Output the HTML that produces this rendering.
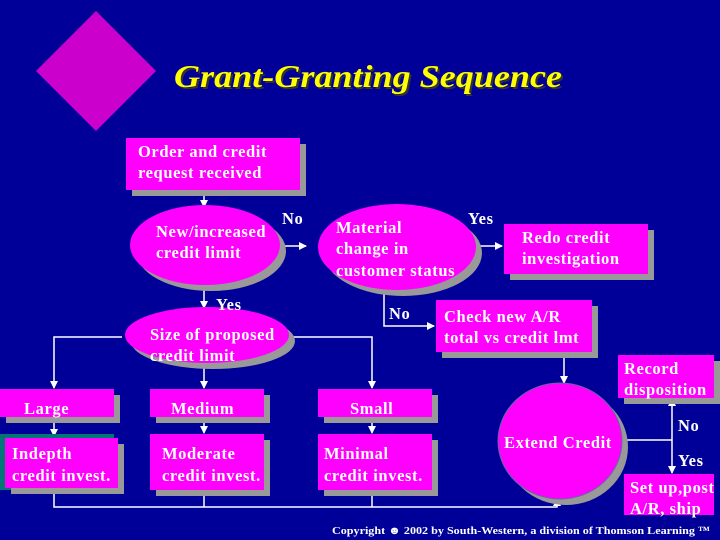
<!DOCTYPE html>
<html><head><meta charset="utf-8"><style>
body{margin:0;background:#000099;}
svg{display:block}
text{font-family:"Liberation Serif",serif;font-weight:bold;fill:#fff;letter-spacing:0.6px}
.sh{fill:#999}
.m{fill:#ff00ff}
.l{stroke:#fff;stroke-width:1.5;fill:none}
</style></head><body>
<svg width="720" height="540" viewBox="0 0 720 540" font-size="16.5">
<defs><marker id="a" markerWidth="8" markerHeight="8" refX="7" refY="4" orient="auto" markerUnits="userSpaceOnUse"><path d="M0,0L8,4L0,8z" fill="#fff"/></marker></defs>
<rect width="720" height="540" fill="#000099"/>
<polygon points="96,11 156,71 96,131 36,71" fill="#cc00cc"/>
<text x="176" y="89" textLength="388" lengthAdjust="spacingAndGlyphs" style="font-size:32px;font-style:italic;fill:#333;letter-spacing:0">Grant-Granting Sequence</text>
<text x="174" y="87" textLength="388" lengthAdjust="spacingAndGlyphs" style="font-size:32px;font-style:italic;fill:#ffff00;letter-spacing:0">Grant-Granting Sequence</text>

<g class="l">
<line x1="204" y1="190" x2="204" y2="207" marker-end="url(#a)"/>
<line x1="282" y1="246" x2="306" y2="246" marker-end="url(#a)"/>
<line x1="204" y1="286" x2="204" y2="308" marker-end="url(#a)"/>
<line x1="462" y1="246" x2="502" y2="246" marker-end="url(#a)"/>
<polyline points="384,288 384,326 434,326" marker-end="url(#a)"/>
<polyline points="122,337 54,337 54,388" marker-end="url(#a)"/>
<polyline points="288,337 372,337 372,388" marker-end="url(#a)"/>
<line x1="204" y1="365" x2="204" y2="388" marker-end="url(#a)"/>
<line x1="54" y1="417" x2="54" y2="436" marker-end="url(#a)"/>
<line x1="204" y1="417" x2="204" y2="433" marker-end="url(#a)"/>
<line x1="372" y1="417" x2="372" y2="433" marker-end="url(#a)"/>
<polyline points="54,490 54,507 557,507 557,499" marker-end="url(#a)"/>
<line x1="204" y1="490" x2="204" y2="507"/>
<line x1="372" y1="490" x2="372" y2="507"/>
<line x1="564" y1="354" x2="564" y2="383" marker-end="url(#a)"/>
<line x1="622" y1="440" x2="672" y2="440"/>
<line x1="672" y1="440" x2="672" y2="399" marker-end="url(#a)"/>
<line x1="672" y1="440" x2="672" y2="473" marker-end="url(#a)"/>
</g>

<rect class="sh" x="132" y="144" width="174" height="52"/><rect class="m" x="126" y="138" width="174" height="52"/>
<ellipse class="sh" cx="211" cy="251" rx="75" ry="40"/><ellipse class="m" cx="205" cy="245" rx="75" ry="40"/>
<ellipse class="sh" cx="403" cy="253" rx="79" ry="43"/><ellipse class="m" cx="397" cy="247" rx="79" ry="43"/>
<rect class="sh" x="510" y="230" width="144" height="50"/><rect class="m" x="504" y="224" width="144" height="50"/>
<rect class="sh" x="442" y="306" width="156" height="52"/><rect class="m" x="436" y="300" width="156" height="52"/>
<ellipse class="sh" cx="213" cy="341" rx="82" ry="28"/><ellipse class="m" cx="207" cy="335" rx="82" ry="28"/>
<rect class="sh" x="6" y="395" width="114" height="28"/><rect class="m" x="0" y="389" width="114" height="28"/>
<rect fill="#007777" x="0" y="434" width="114" height="56"/>
<rect class="sh" x="11" y="444" width="113" height="50"/><rect class="m" x="5" y="438" width="113" height="50"/>
<rect class="sh" x="156" y="395" width="114" height="28"/><rect class="m" x="150" y="389" width="114" height="28"/>
<rect class="sh" x="156" y="440" width="114" height="56"/><rect class="m" x="150" y="434" width="114" height="56"/>
<rect class="sh" x="324" y="395" width="114" height="28"/><rect class="m" x="318" y="389" width="114" height="28"/>
<rect class="sh" x="324" y="440" width="114" height="56"/><rect class="m" x="318" y="434" width="114" height="56"/>
<ellipse class="sh" cx="566" cy="447" rx="62" ry="58"/><ellipse class="m" cx="560" cy="441" rx="62" ry="58" stroke="#6666aa" stroke-width="1"/>
<rect class="sh" x="624" y="361" width="96" height="43"/><rect class="m" x="618" y="355" width="96" height="43"/>
<rect class="m" x="624" y="474" width="90" height="41"/>

<text x="138" y="157">Order and credit</text><text x="138" y="178">request received</text>
<text x="156" y="237">New/increased</text><text x="156" y="258">credit limit</text>
<text x="282" y="224">No</text>
<text x="336" y="233">Material</text><text x="336" y="254">change in</text><text x="336" y="276">customer status</text>
<text x="468" y="224">Yes</text>
<text x="522" y="243">Redo credit</text><text x="522" y="264">investigation</text>
<text x="216" y="310">Yes</text>
<text x="389" y="319">No</text>
<text x="444" y="322">Check new A/R</text><text x="444" y="343">total  vs credit lmt</text>
<text x="150" y="340">Size of proposed</text><text x="150" y="361">credit limit</text>
<text x="624" y="374">Record</text><text x="624" y="395">disposition</text>
<text x="24" y="414">Large</text>
<text x="171" y="414">Medium</text>
<text x="350" y="414">Small</text>
<text x="12" y="459">Indepth</text><text x="12" y="481">credit invest.</text>
<text x="162" y="459">Moderate</text><text x="162" y="481">credit invest.</text>
<text x="324" y="459">Minimal</text><text x="324" y="481">credit invest.</text>
<text x="504" y="448">Extend Credit</text>
<text x="678" y="431">No</text><text x="678" y="466">Yes</text>
<text x="630" y="493">Set up,post</text><text x="630" y="514">A/R, ship</text>
<text x="332" y="534" textLength="378" lengthAdjust="spacingAndGlyphs" style="font-size:11px;letter-spacing:0">Copyright ☻ 2002 by South-Western, a division of Thomson Learning ™</text>
</svg>
</body></html>
